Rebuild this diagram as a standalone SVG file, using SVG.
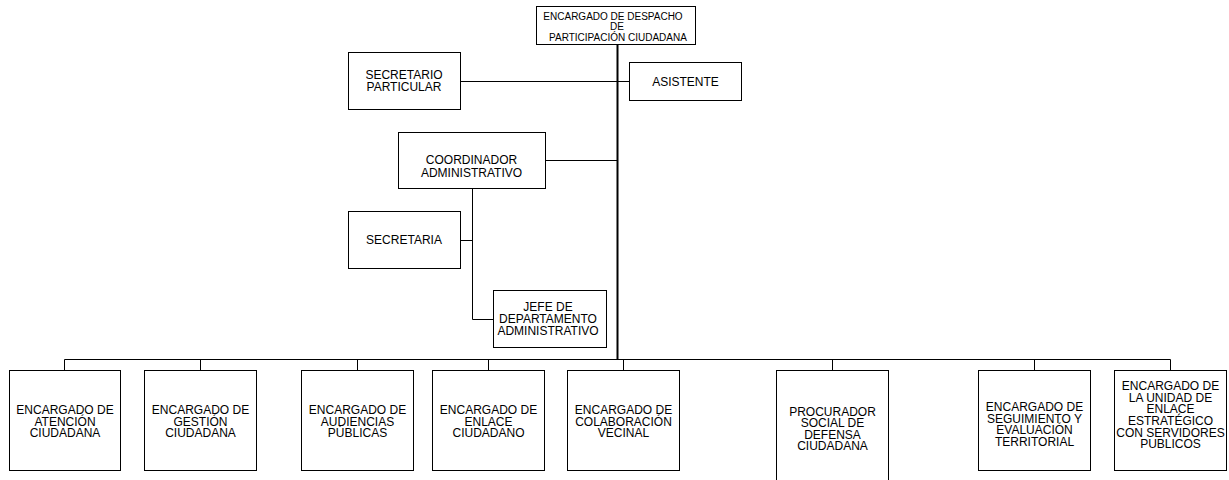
<svg xmlns="http://www.w3.org/2000/svg" width="1229" height="480" viewBox="0 0 1229 480">
<style>
.box{fill:#fff;stroke:#000;stroke-width:1}
.ln{fill:none;stroke:#000;stroke-width:1}
.main{fill:none;stroke:#000;stroke-width:2}
text{font-family:"Liberation Sans",Arial,sans-serif;font-size:12px;fill:#000;text-anchor:middle}
.sm{font-size:10px}
</style>
<rect width="1229" height="480" fill="#fff"/>
<g id="connectors">
<path class="main" d="M617.5 44V359.5"/>
<path class="ln" d="M460 81.5H629.5M545 160.5H617M472.5 188V319.5H493M460 240.5H472.5"/>
<path class="ln" d="M64.5 359.5H1170.5M64.5 359.5V370.5M200.5 359.5V370.5M357.5 359.5V370.5M488.5 359.5V370.5M623.5 359.5V370.5M832.5 359.5V370.5M1034.5 359.5V370.5M1170.5 359.5V370.5"/>
</g>
<g id="n-top"><rect class="box" x="536.5" y="6.5" width="159" height="38"/>
<text class="sm" x="613" y="20">ENCARGADO DE DESPACHO</text><text class="sm" x="617" y="30">DE</text><text class="sm" x="618" y="41">PARTICIPACIÓN CIUDADANA</text></g>
<g id="n-secpart"><rect class="box" x="348.5" y="52.5" width="112" height="57"/>
<text x="404" y="79">SECRETARIO</text><text x="404" y="90.5">PARTICULAR</text></g>
<g id="n-asistente"><rect class="box" x="629.5" y="62.5" width="112" height="38"/>
<text x="685.5" y="86">ASISTENTE</text></g>
<g id="n-coord"><rect class="box" x="398.5" y="132.5" width="147" height="56"/>
<text x="471.5" y="163.5">COORDINADOR</text><text x="471.5" y="176.5">ADMINISTRATIVO</text></g>
<g id="n-secretaria"><rect class="box" x="348.5" y="211.5" width="112" height="57"/>
<text x="404" y="244">SECRETARIA</text></g>
<g id="n-jefe"><rect class="box" x="493.5" y="290.5" width="113" height="57"/>
<text x="548" y="311">JEFE DE</text><text x="548" y="322.7">DEPARTAMENTO</text><text x="548" y="335">ADMINISTRATIVO</text></g>
<g id="n-b1"><rect class="box" x="9.5" y="370.5" width="111" height="100"/>
<text x="65" y="414">ENCARGADO DE</text><text x="65" y="425.7">ATENCIÓN</text><text x="65" y="437.3">CIUDADANA</text></g>
<g id="n-b2"><rect class="box" x="144.5" y="370.5" width="112" height="100"/>
<text x="200.5" y="414">ENCARGADO DE</text><text x="200.5" y="425.7">GESTIÓN</text><text x="200.5" y="437.3">CIUDADANA</text></g>
<g id="n-b3"><rect class="box" x="301.5" y="370.5" width="112" height="100"/>
<text x="357.5" y="414">ENCARGADO DE</text><text x="357.5" y="425.7">AUDIENCIAS</text><text x="357.5" y="437.3">PÚBLICAS</text></g>
<g id="n-b4"><rect class="box" x="432.5" y="370.5" width="112" height="100"/>
<text x="488.5" y="414">ENCARGADO DE</text><text x="488.5" y="425.7">ENLACE</text><text x="488.5" y="437.3">CIUDADANO</text></g>
<g id="n-b5"><rect class="box" x="567.5" y="370.5" width="112" height="100"/>
<text x="623.5" y="414">ENCARGADO DE</text><text x="623.5" y="425.7">COLABORACIÓN</text><text x="623.5" y="437.3">VECINAL</text></g>
<g id="n-b6"><rect class="box" x="776.5" y="370.5" width="112" height="125"/>
<text x="832.5" y="415.5">PROCURADOR</text><text x="832.5" y="427">SOCIAL DE</text><text x="832.5" y="438.5">DEFENSA</text><text x="832.5" y="450">CIUDADANA</text></g>
<g id="n-b7"><rect class="box" x="978.5" y="370.5" width="112" height="100"/>
<text x="1034.5" y="411">ENCARGADO DE</text><text x="1034.5" y="422.7">SEGUIMIENTO Y</text><text x="1034.5" y="434.3">EVALUACIÓN</text><text x="1034.5" y="446">TERRITORIAL</text></g>
<g id="n-b8"><rect class="box" x="1114.5" y="370.5" width="112" height="100"/>
<text x="1170.5" y="390">ENCARGADO DE</text><text x="1170.5" y="401.7">LA UNIDAD DE</text><text x="1170.5" y="413.3">ENLACE</text><text x="1170.5" y="425">ESTRATÉGICO</text><text x="1170.5" y="436.7">CON SERVIDORES</text><text x="1170.5" y="448.3">PUBLICOS</text></g>
</svg>
